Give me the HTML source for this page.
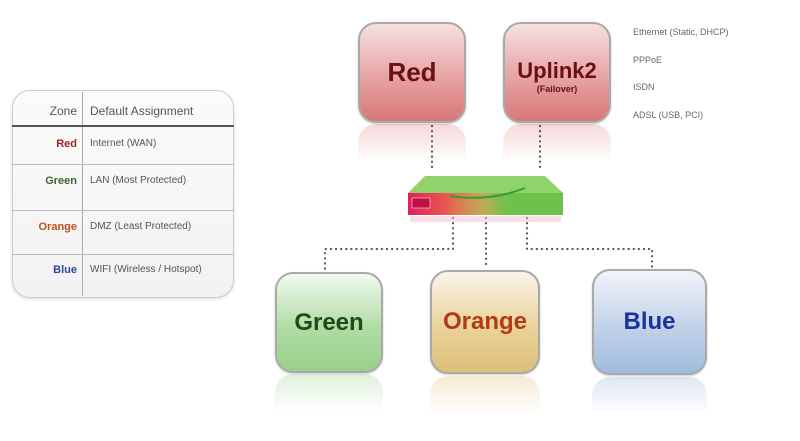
<!DOCTYPE html>
<html><head><meta charset="utf-8"><style>
body{margin:0;width:800px;height:441px;background:#fff;position:relative;overflow:hidden;font-family:"Liberation Sans",sans-serif;}
.abs{position:absolute}
.box{position:absolute;border:2px solid #a9a9a9;border-radius:18px;box-sizing:border-box;display:flex;flex-direction:column;align-items:center;justify-content:center;box-shadow:0 1px 2px rgba(0,0,0,.2);font-weight:bold}
.refl{position:absolute;border-radius:18px 18px 0 0;opacity:.45}
.t{position:absolute;font-size:9px;color:#666}
.cell{position:absolute;font-size:10px;color:#555}
</style></head><body>
<div class="abs" style="left:12px;top:90px;width:222px;height:208px;border:1px solid #ccc;border-radius:18px;box-sizing:border-box;background:linear-gradient(#fbfbfb,#f2f2f2);box-shadow:0 1px 3px rgba(0,0,0,.15)"></div>
<div class="abs" style="left:82px;top:92px;width:1px;height:204px;background:#aaa"></div>
<div class="abs" style="left:12px;top:125px;width:222px;height:2px;background:#555"></div>
<div class="abs" style="left:12px;top:164px;width:222px;height:1px;background:#bbb"></div>
<div class="abs" style="left:12px;top:210px;width:222px;height:1px;background:#bbb"></div>
<div class="abs" style="left:12px;top:254px;width:222px;height:1px;background:#bbb"></div>
<div class="cell" style="left:20px;width:57px;text-align:right;top:104px;font-size:12px;color:#555">Zone</div>
<div class="cell" style="left:90px;top:104px;font-size:12px;color:#555">Default Assignment</div>
<div class="cell" style="left:20px;width:57px;text-align:right;top:138px;color:#a0202a;font-weight:bold;font-size:11px">Red</div>
<div class="cell" style="left:90px;top:138px;font-size:10px">Internet (WAN)</div>
<div class="cell" style="left:20px;width:57px;text-align:right;top:175px;color:#3a6a2a;font-weight:bold;font-size:11px">Green</div>
<div class="cell" style="left:90px;top:175px;font-size:10px">LAN (Most Protected)</div>
<div class="cell" style="left:20px;width:57px;text-align:right;top:221px;color:#c0501a;font-weight:bold;font-size:11px">Orange</div>
<div class="cell" style="left:90px;top:221px;font-size:10px">DMZ (Least Protected)</div>
<div class="cell" style="left:20px;width:57px;text-align:right;top:264px;color:#2a4a9a;font-weight:bold;font-size:11px">Blue</div>
<div class="cell" style="left:90px;top:264px;font-size:10px">WIFI (Wireless / Hotspot)</div>

<div class="refl" style="left:358px;top:124px;width:108px;height:38px;background:linear-gradient(#e9a9a9,#fff)"></div>
<div class="refl" style="left:503px;top:124px;width:108px;height:38px;background:linear-gradient(#e9a9a9,#fff)"></div>
<div class="refl" style="left:275px;top:374px;width:108px;height:38px;background:linear-gradient(#b6e0b0,#fff)"></div>
<div class="refl" style="left:430px;top:376px;width:110px;height:38px;background:linear-gradient(#ead29a,#fff)"></div>
<div class="refl" style="left:592px;top:377px;width:115px;height:38px;background:linear-gradient(#b8cce4,#fff)"></div>

<svg class="abs" style="left:0;top:0" width="800" height="441">
<g stroke="#555" stroke-width="2.2" stroke-dasharray="0.1 5" stroke-linecap="round" fill="none">
<path d="M432 126V170"/><path d="M540 126V170"/>
<path d="M453 218V249H325V270"/>
<path d="M486 218V268"/>
<path d="M527 218V249H652V267"/>
</g>
<defs><linearGradient id="rg" x1="0" x2="1"><stop offset="0" stop-color="#e0205a"/><stop offset=".25" stop-color="#e85a50"/><stop offset=".5" stop-color="#f0a060" stop-opacity=".6"/><stop offset=".7" stop-color="#6cc24a" stop-opacity="0"/></linearGradient></defs>
<polygon points="425,176 545,176 563,193 408,193" fill="#8fd36a"/>
<rect x="408" y="193" width="155" height="22" fill="#6cc24a"/>
<rect x="408" y="193" width="155" height="22" fill="url(#rg)"/>
<rect x="412" y="198" width="18" height="10" fill="#c01040" stroke="#fff" stroke-width=".5"/>
<path d="M450 196 Q490 202 525 188" stroke="#3a9a3a" stroke-width="2" fill="none"/>
<rect x="410" y="216" width="151" height="6" fill="#f0c0d0" opacity=".5"/>
</svg>

<div class="box" style="left:358px;top:22px;width:108px;height:101px;background:linear-gradient(#f6e0e0,#e8a8a8 50%,#d87878)"><span style="font-size:26px;color:#6a1010">Red</span></div>
<div class="box" style="left:503px;top:22px;width:108px;height:101px;background:linear-gradient(#f6e0e0,#e8a8a8 50%,#d87878)"><span style="font-size:22px;color:#6a1010;margin-top:6px">Uplink2</span><span style="font-size:9px;color:#6a1010">(Failover)</span></div>
<div class="box" style="left:275px;top:272px;width:108px;height:101px;background:linear-gradient(#f2faf0,#b0dca4 55%,#98d08a)"><span style="font-size:24px;color:#1f4a1a">Green</span></div>
<div class="box" style="left:430px;top:270px;width:110px;height:104px;background:linear-gradient(#fbf4ea,#ead29a 55%,#dcbf78)"><span style="font-size:24px;color:#b03c14">Orange</span></div>
<div class="box" style="left:592px;top:269px;width:115px;height:106px;background:linear-gradient(#f2f4fb,#c2d2e8 55%,#a0bcdc)"><span style="font-size:24px;color:#1a32a0">Blue</span></div>

<div class="t" style="left:633px;top:27px">Ethernet (Static, DHCP)</div>
<div class="t" style="left:633px;top:55px">PPPoE</div>
<div class="t" style="left:633px;top:82px">ISDN</div>
<div class="t" style="left:633px;top:110px">ADSL (USB, PCI)</div>
</body></html>
